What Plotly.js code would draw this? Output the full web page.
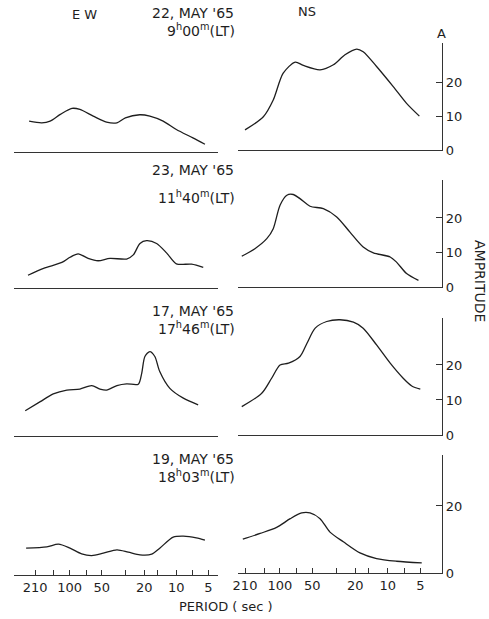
<!DOCTYPE html>
<html><head><meta charset="utf-8">
<script src="https://cdn.plot.ly/plotly-3.0.1.min.js"></script>
<style>html,body{margin:0;padding:0;background:#fff}#chart{width:489px;height:619px}</style>
</head><body><div id="chart"></div>
<script>
// Period (sec) and amplitude for each record, EW and NS components
const ewPeriod1 = [239,182,152,122,95,80,60,45,36,30,22,17.7,13.3,10,7,5.4];
const ewAmp1    = [9.2,8.7,9.2,11.2,13.0,12.7,10.7,8.9,8.7,10.2,11.1,10.7,9.2,6.7,4.2,2.3];
const nsPeriod1 = [210,142,115,93,72,60.5,42.4,31.9,24.9,19.4,16.9,12.7,8.9,6.7,5.1];
const nsAmp1    = [6.0,9.9,14.9,22.9,26.2,25.2,23.9,25.4,28.4,30.1,29.3,24.9,18.9,13.9,10.1];

const ewPeriod2 = [245,175,118,99,83,67,54,41.8,29.2,25.3,21.9,19,15.3,12.3,10,7.2,5.6];
const ewAmp2    = [3.7,5.7,7.4,8.9,9.9,8.6,7.9,8.6,8.4,9.6,12.9,13.7,12.9,10.1,7.0,6.9,6.0];
const nsPeriod2 = [225,170,132,115,99.5,86,75,65,52.5,39.5,29.7,22.4,16.9,13.6,9.5,8.3,6.7,5.2];
const nsAmp2    = [8.9,11.1,14.0,16.9,23.7,26.6,26.8,25.6,23.4,22.7,20.3,15.9,11.6,9.9,8.7,7.2,3.9,1.9];

const ewPeriod3 = [260,188,142,106,80,62,51.9,45,36,29.2,22.7,21.1,19.7,17.7,15.9,14.3,11.5,8.6,6.25];
const ewAmp3    = [7.2,9.8,12.0,13.1,13.4,14.4,13.4,13.1,14.4,14.9,14.8,17.9,22.7,24.1,22.7,18.4,13.6,10.8,8.9];
const nsPeriod3 = [225,147,119,99.5,83,65,56,47,36.8,27.7,20.8,16.9,12.7,9.5,7.2,6.0,5.0];
const nsAmp3    = [8.1,11.9,16.2,20.0,20.5,22.4,26.2,30.5,32.4,32.9,32.2,30.5,25.7,20.5,16.2,14.0,13.1];

const ewPeriod4 = [255,163,127,99,77,62,48.3,36,28.2,21.9,17,14.3,10.7,8.6,6.5,5.4];
const ewAmp4    = [8.0,8.4,9.2,8.0,6.3,5.8,6.5,7.5,6.8,6.0,6.2,8.0,11.3,11.6,11.1,10.4];
const nsPeriod4 = [220,152,107,80,62.7,52.5,42.4,34.3,25.8,18.1,12.7,8.3,4.85];
const nsAmp4    = [10.1,11.8,13.6,16.2,17.9,17.9,16.2,12.2,9.3,6.0,4.3,3.5,3.0];

const dateLabels = ["22, MAY '65", "23, MAY '65", "17, MAY '65", "19, MAY '65"];
const timeLabels = ["9<sup>h</sup>00<sup>m</sup>(LT)", "11<sup>h</sup>40<sup>m</sup>(LT)",
                    "17<sup>h</sup>46<sup>m</sup>(LT)", "18<sup>h</sup>03<sup>m</sup>(LT)"];
const periodTickVals = [210,100,50,20,10,5];
const periodTickText = ['210','100','50','20','10','5'];
const periodMinorVals = [140,70,30,15,7];
const ampTickVals = [[0,10,20],[0,10,20],[0,10,20],[0,20]];

const W = 489, H = 619;
const px = x => x / W;
const py = y => 1 - y / H;

const ewSeries = [[ewPeriod1,ewAmp1],[ewPeriod2,ewAmp2],[ewPeriod3,ewAmp3],[ewPeriod4,ewAmp4]];
const nsSeries = [[nsPeriod1,nsAmp1],[nsPeriod2,nsAmp2],[nsPeriod3,nsAmp3],[nsPeriod4,nsAmp4]];

// pixel layout of each row: [NS top, NS base, EW top, EW base, y max]
const rows = [
  [43, 150, 45, 152, 31.9],
  [180, 287, 181, 288, 31.0],
  [318, 435, 319, 436, 33.4],
  [455, 573, 457, 575, 35.2]
];

const FONT = "DejaVu Sans, Liberation Sans, sans-serif";
const ink = '#1e1e1e';
const traces = [];
const layout = {
  width: W, height: H,
  margin: {l:0, r:0, t:0, b:0},
  paper_bgcolor: '#fff', plot_bgcolor: 'rgba(0,0,0,0)',
  showlegend: false,
  font: {family: FONT, color: ink, size: 12},
  annotations: []
};

for (let r = 0; r < 4; r++) {
  const [nsTop, nsBase, ewTop, ewBase, ymax] = rows[r];
  const iE = r*2 + 1, iN = r*2 + 2;
  const last = r === 3;
  traces.push({x: ewSeries[r][0], y: ewSeries[r][1], xaxis: 'x'+iE, yaxis: 'y'+iE,
    mode: 'lines', line: {color: ink, width: 1.3, shape: 'spline', smoothing: 0.8}, hoverinfo: 'skip'});
  traces.push({x: nsSeries[r][0], y: nsSeries[r][1], xaxis: 'x'+iN, yaxis: 'y'+iN,
    mode: 'lines', line: {color: ink, width: 1.3, shape: 'spline', smoothing: 0.8}, hoverinfo: 'skip'});

  const xCommon = {type: 'log', showgrid: false, zeroline: false, showline: true,
    linecolor: '#333', linewidth: 1.2, fixedrange: true};
  if (last) {
    Object.assign(xCommon, {tickmode: 'array', tickvals: periodTickVals, ticktext: periodTickText,
      ticks: 'inside', ticklen: 5, tickwidth: 1, tickcolor: '#333',
      minor: {tickmode: 'array', tickvals: periodMinorVals, ticks: 'inside', ticklen: 5,
              tickwidth: 1, tickcolor: '#333', showgrid: false},
      tickfont: {family: FONT, size: 13, color: ink}, showticklabels: true});
  } else {
    Object.assign(xCommon, {ticks: '', showticklabels: false});
  }
  layout['xaxis'+iE] = Object.assign({}, xCommon, {domain: [px(14), px(218)],
    range: [2.52, 0.61], anchor: 'y'+iE});
  layout['xaxis'+iN] = Object.assign({}, xCommon, {domain: [px(238), px(442)],
    range: [2.387, 0.498], anchor: 'y'+iN});

  layout['yaxis'+iE] = {domain: [py(ewBase), py(ewTop)], range: [0, ymax], anchor: 'x'+iE,
    showline: false, showgrid: false, zeroline: false, ticks: '', showticklabels: false, fixedrange: true};
  layout['yaxis'+iN] = {domain: [py(nsBase), py(nsTop)], range: [0, ymax], anchor: 'x'+iN,
    side: 'right', showline: true, linecolor: '#333', linewidth: 1.2, showgrid: false, zeroline: false,
    tickmode: 'array', tickvals: ampTickVals[r], ticktext: ampTickVals[r].map(String),
    ticks: 'inside', ticklen: 6, tickcolor: '#333', tickwidth: 1,
    tickfont: {family: FONT, size: 13, color: ink}, fixedrange: true};
}

const dateY = [[13, 30], [170, 197], [311, 328], [459, 476]];
for (let r = 0; r < 4; r++) {
  layout.annotations.push({xref: 'paper', yref: 'paper', x: px(236), y: py(dateY[r][0]),
    xanchor: 'right', yanchor: 'middle', showarrow: false, text: dateLabels[r],
    font: {family: FONT, size: 14, color: ink}});
  layout.annotations.push({xref: 'paper', yref: 'paper', x: px(237), y: py(dateY[r][1]),
    xanchor: 'right', yanchor: 'middle', showarrow: false, text: timeLabels[r],
    font: {family: FONT, size: 14, color: ink}});
}
layout.annotations.push({xref:'paper', yref:'paper', x: px(84), y: py(15), showarrow:false,
  xanchor:'center', yanchor:'middle', text:'E W', font:{family: FONT, size: 13, color: ink}});
layout.annotations.push({xref:'paper', yref:'paper', x: px(307), y: py(12), showarrow:false,
  xanchor:'center', yanchor:'middle', text:'NS', font:{family: FONT, size: 13, color: ink}});
layout.annotations.push({xref:'paper', yref:'paper', x: px(441), y: py(33), showarrow:false,
  xanchor:'center', yanchor:'middle', text:'A', font:{family: FONT, size: 13, color: ink}});
layout.annotations.push({xref:'paper', yref:'paper', x: px(480), y: py(281), showarrow:false,
  xanchor:'center', yanchor:'middle', textangle: 90, text:'AMPRITUDE',
  font:{family: FONT, size: 14, color: ink}});
layout.annotations.push({xref:'paper', yref:'paper', x: px(226), y: py(606), showarrow:false,
  xanchor:'center', yanchor:'middle', text:'PERIOD ( sec )', font:{family: FONT, size: 13, color: ink}});

Plotly.newPlot('chart', traces, layout, {staticPlot: true, displayModeBar: false});
</script>
</body></html>
